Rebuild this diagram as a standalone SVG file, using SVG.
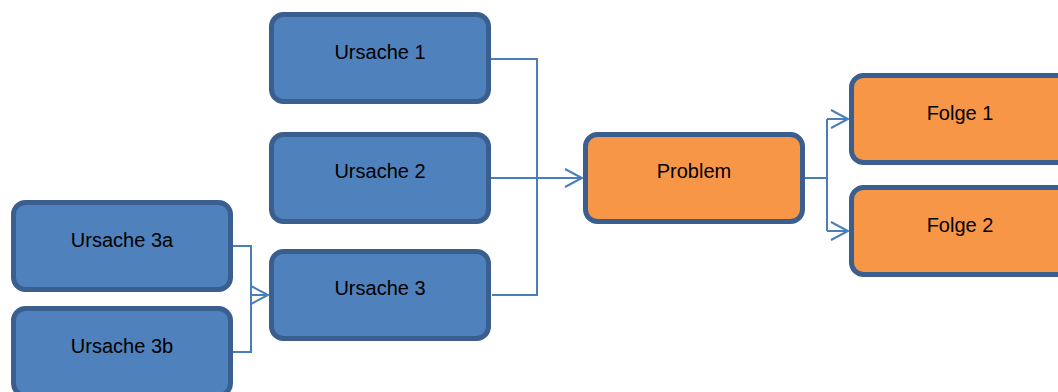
<svg xmlns="http://www.w3.org/2000/svg" width="1058" height="392" viewBox="0 0 1058 392">
  <defs>
    <marker id="arrow" markerUnits="userSpaceOnUse" markerWidth="22" markerHeight="24" viewBox="-2 -2 22 24" refX="17" refY="9" orient="auto">
      <path d="M0,0 L17,9 L0,18" fill="none" stroke="#4A7EBB" stroke-width="2"/>
    </marker>
    <style>
      .box rect { stroke: #3A5F8E; stroke-width: 5; }
      .cause rect { fill: #4F81BD; }
      .effect rect { fill: #F79646; }
      .box text { font-family: "Liberation Sans", Arial, sans-serif; font-size: 20px; fill: #000; text-anchor: middle; }
      .conn { fill: none; stroke: #4A7EBB; stroke-width: 2; }
    </style>
  </defs>
  <rect width="1058" height="392" fill="#fff"/>

  <!-- connectors -->
  <g id="connectors">
    <path class="conn" d="M491,59 H537 V178"/>
    <path class="conn" d="M492,295 H537 V178"/>
    <path class="conn" d="M491,178 H582" marker-end="url(#arrow)"/>
    <path class="conn" d="M233,246 H251 V295"/>
    <path class="conn" d="M233,352 H251 V295"/>
    <path class="conn" d="M251,295 H268" marker-end="url(#arrow)"/>
    <path class="conn" d="M805,178 H827 V119"/>
    <path class="conn" d="M827,178 V231"/>
    <path class="conn" d="M827,119 H848" marker-end="url(#arrow)"/>
    <path class="conn" d="M827,231 H848" marker-end="url(#arrow)"/>
  </g>

  <!-- causes -->
  <g id="ursache-1" class="box cause">
    <rect x="271.5" y="14.5" width="217" height="87" rx="12"/>
    <text x="380" y="59">Ursache 1</text>
  </g>
  <g id="ursache-2" class="box cause">
    <rect x="271.5" y="134.5" width="217" height="87" rx="12"/>
    <text x="380" y="178">Ursache 2</text>
  </g>
  <g id="ursache-3" class="box cause">
    <rect x="271.5" y="251.5" width="217" height="87" rx="12"/>
    <text x="380" y="295">Ursache 3</text>
  </g>
  <g id="ursache-3a" class="box cause">
    <rect x="13.5" y="202.5" width="217" height="87" rx="12"/>
    <text x="122" y="247">Ursache 3a</text>
  </g>
  <g id="ursache-3b" class="box cause">
    <rect x="13.5" y="308.5" width="217" height="87" rx="12"/>
    <text x="122" y="353">Ursache 3b</text>
  </g>

  <!-- problem -->
  <g id="problem" class="box effect">
    <rect x="585.5" y="134.5" width="217" height="87" rx="12"/>
    <text x="694" y="178">Problem</text>
  </g>

  <!-- consequences -->
  <g id="folge-1" class="box effect">
    <rect x="851.5" y="75.5" width="217" height="87" rx="12"/>
    <text x="960" y="120">Folge 1</text>
  </g>
  <g id="folge-2" class="box effect">
    <rect x="851.5" y="187.5" width="217" height="87" rx="12"/>
    <text x="960" y="232">Folge 2</text>
  </g>
</svg>
